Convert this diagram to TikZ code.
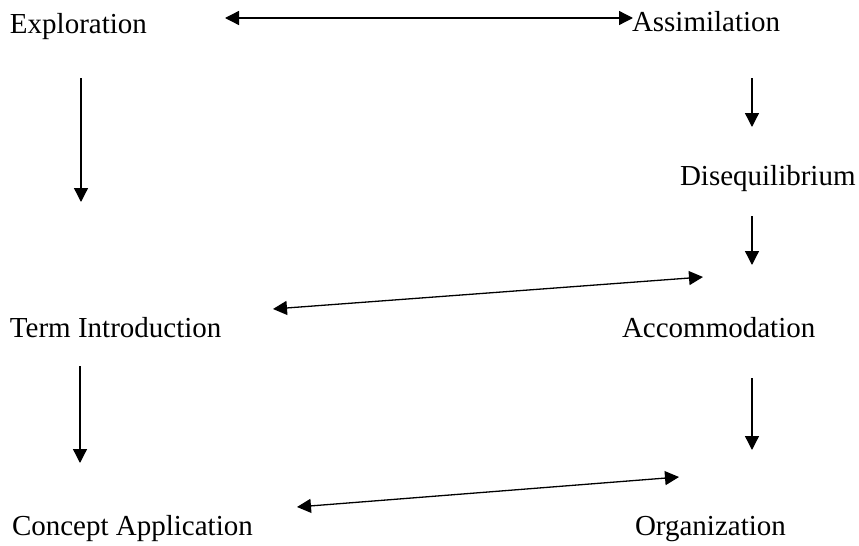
\documentclass[tikz,border=0pt]{standalone}
\usepackage{fontspec}
\setmainfont{Liberation Serif}
\usetikzlibrary{arrows.meta}
\tikzset{
    % Text of the stages
    stage/.style={anchor=base west,inner sep=0pt,outer sep=0pt,font=\fontsize{14.5}{17}\selectfont},
    %
    % Arrows
    arrow tip/.tip={Triangle[length=7pt,width=7pt]},
    arr/.style={->,>={arrow tip},line width=.65pt},
    darr/.style={<->,>={arrow tip},line width=.65pt}
}

\begin{document}
\begin{tikzpicture}[x=.5pt,y=-.5pt]
        \useasboundingbox (0,0) rectangle (859,546);
        % stages
        \node[stage] (explo) at (10,33) {Exploration};
        \node[stage] (assim) at (632,32) {Assimilation};
        \node[stage] (diseq) at (680,185) {Disequilibrium};
        \node[stage] (term) at (10,337) {Term Introduction};
        \node[stage] (accom) at (622,337) {Accommodation};
        \node[stage] (concept) at (12,535) {Concept Application};
        \node[stage] (organ) at (635,535) {Organization};
        % arrow ends
        \coordinate (explo l) at (225,18);
        \coordinate (explo r) at (633,18);
        \coordinate (explo t) at (81,78);
        \coordinate (explo b) at (81,202);
        \coordinate (assim t) at (752,78);
        \coordinate (assim b) at (752,127);
        \coordinate (diseq t) at (752,216);
        \coordinate (diseq b) at (752,265);
        \coordinate (term r) at (703,277);
        \coordinate (term l) at (273,309);
        \coordinate (term t) at (80,366);
        \coordinate (term b) at (80,463);
        \coordinate (accom t) at (752,378);
        \coordinate (accom b) at (752,450);
        \coordinate (concept r) at (679,477);
        \coordinate (concept l) at (297,507);
        % arrows
        \draw[darr] (explo l) -- (explo r);
        \draw[arr] (explo t) -- (explo b);
        \draw[arr] (assim t) -- (assim b);
        \draw[arr] (diseq t) -- (diseq b);
        \draw[darr] (term r) -- (term l);
        \draw[arr] (term t) -- (term b);
        \draw[arr] (accom t) -- (accom b);
        \draw[darr] (concept r) -- (concept l);
    \end{tikzpicture}
\end{document}
